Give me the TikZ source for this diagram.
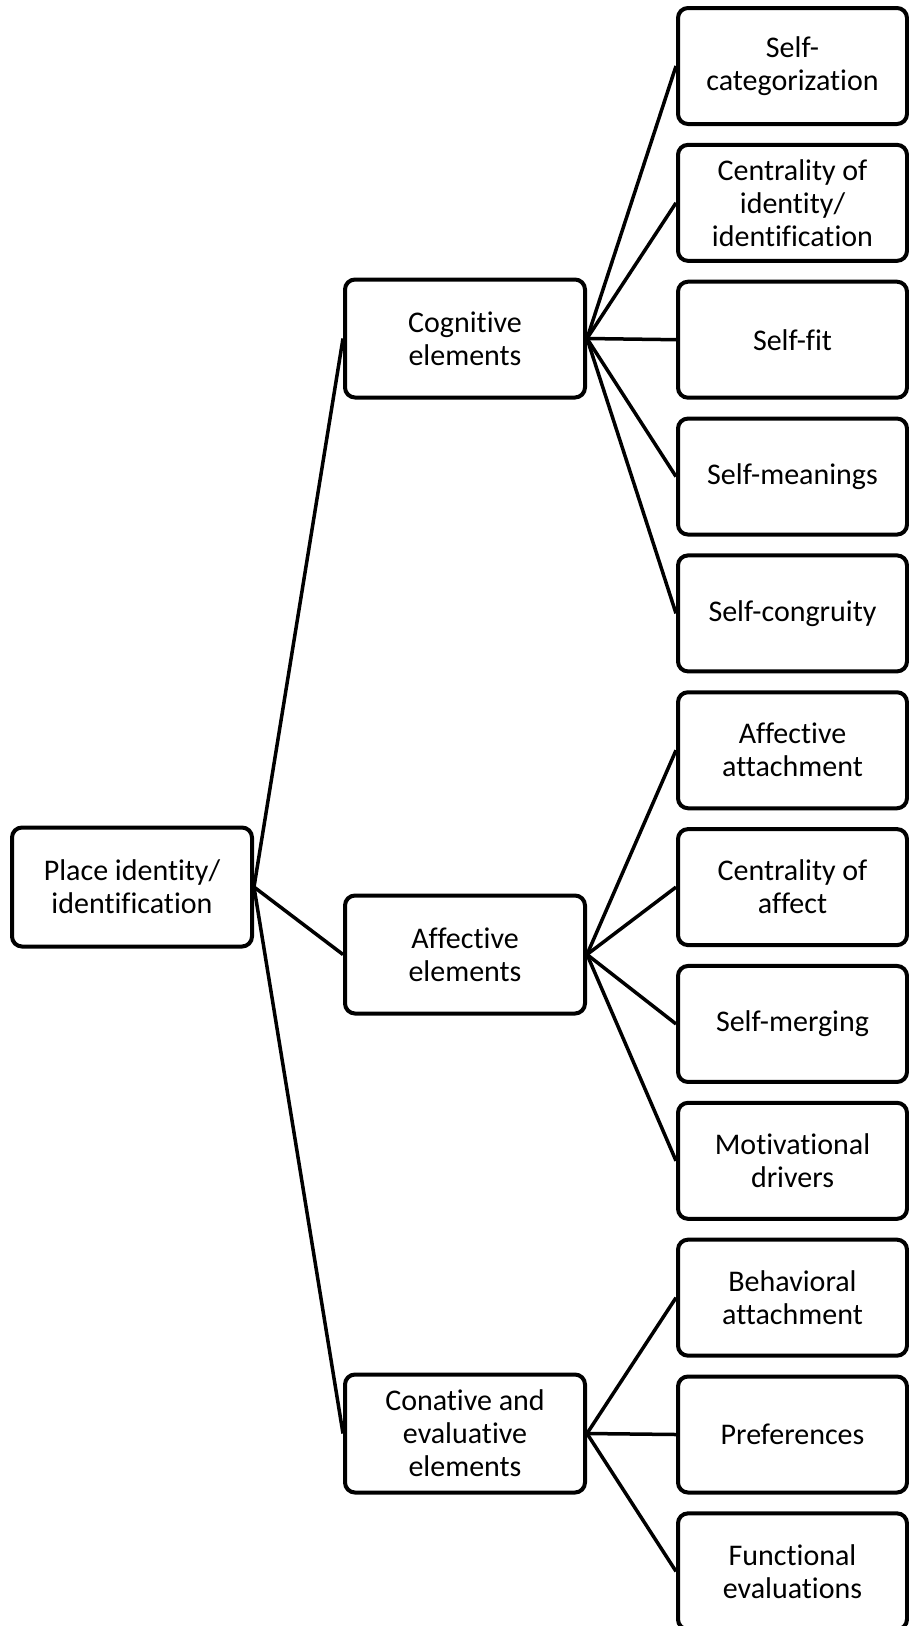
\documentclass[tikz,border=0pt]{standalone}
\usepackage{fontspec}
\setmainfont{Carlito}[Ligatures={NoCommon}]
\begin{document}
\begin{tikzpicture}[x=1pt,y=-1pt,
  box/.style={draw=black, line width=4pt, rounded corners=10pt, align=center,
    inner sep=0pt, font=\fontsize{30}{33}\selectfont, text=black},
  leaf/.style={box, minimum width=229pt, minimum height=116pt},
  mid/.style={box, minimum width=240pt, minimum height=118pt},
  link/.style={draw=black, line width=3.5pt}]
\clip (0,0) rectangle (909,1626);
\fill[white] (0,0) rectangle (909,1626);
\node[mid, minimum height=119pt] (root) at (132,887) {Place identity/\\identification};
\node[mid] (cog) at (465,338.5) {Cognitive\\elements};
\node[mid] (aff) at (465,954.5) {Affective\\elements};
\node[mid] (con) at (465,1433.5) {Conative and\\evaluative\\elements};
\def\lx{792.5}
\node[leaf] (l1) at (\lx,66) {Self-\\categorization};
\node[leaf] (l2) at (\lx,202.85) {Centrality of\\identity/\\identification};
\node[leaf] (l3) at (\lx,339.7) {Self-fit};
\node[leaf] (l4) at (\lx,476.55) {Self-meanings};
\node[leaf] (l5) at (\lx,613.4) {Self-congruity};
\node[leaf] (l6) at (\lx,750.25) {Affective\\attachment};
\node[leaf] (l7) at (\lx,887.1) {Centrality of\\affect};
\node[leaf] (l8) at (\lx,1023.95) {Self-merging};
\node[leaf] (l9) at (\lx,1160.8) {Motivational\\drivers};
\node[leaf] (l10) at (\lx,1297.65) {Behavioral\\attachment};
\node[leaf] (l11) at (\lx,1434.5) {Preferences};
\node[leaf] (l12) at (\lx,1571.35) {Functional\\evaluations};
\foreach \m in {cog,aff,con} \draw[link] (root.east) -- (\m.west);
\foreach \l in {l1,l2,l3,l4,l5} \draw[link] (cog.east) -- (\l.west);
\foreach \l in {l6,l7,l8,l9} \draw[link] (aff.east) -- (\l.west);
\foreach \l in {l10,l11,l12} \draw[link] (con.east) -- (\l.west);
\end{tikzpicture}
\end{document}
